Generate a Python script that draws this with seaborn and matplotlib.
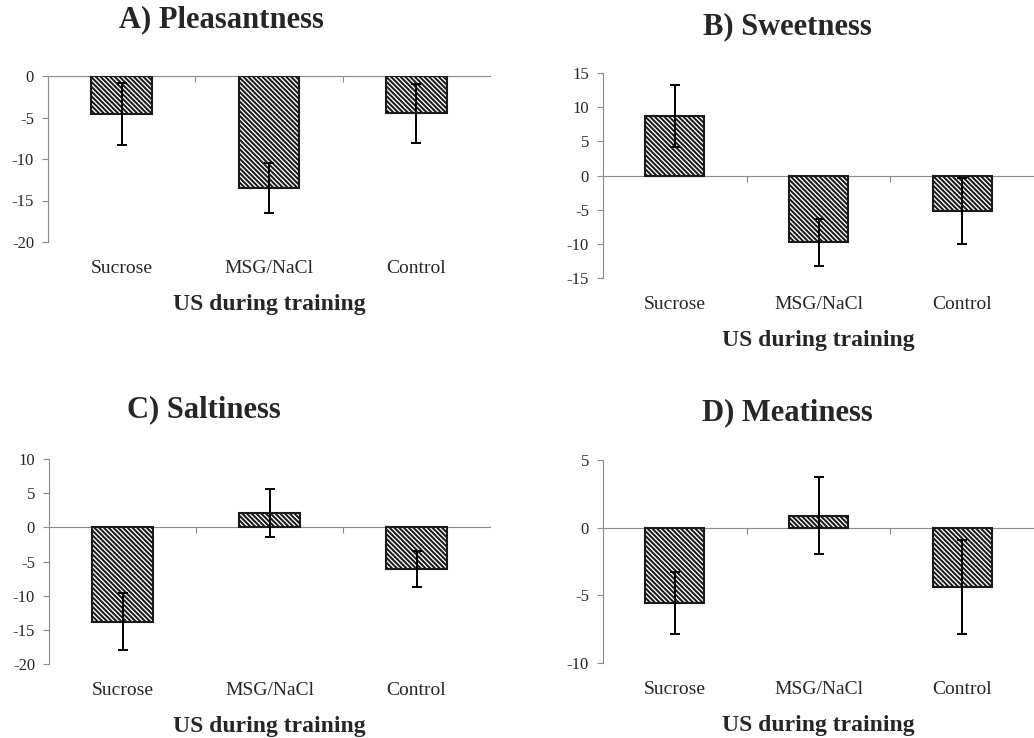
import matplotlib
matplotlib.use("Agg")
import matplotlib.pyplot as plt
import seaborn as sns
import pandas as pd

categories = ["Sucrose", "MSG/NaCl", "Control"]

pleasant = [-4.6, -13.5, -4.5]
pleasant_err = [3.7, 3.05, 3.55]
sweet = [8.7, -9.8, -5.2]
sweet_err = [4.5, 3.5, 4.8]
salt = [-13.8, 2.1, -6.1]
salt_err = [4.2, 3.5, 2.7]
meat = [-5.57, 0.89, -4.37]
meat_err = [2.27, 2.83, 3.47]

titles = ["A) Pleasantness", "B) Sweetness", "C) Saltiness", "D) Meatiness"]
ylims = [(-20, 0), (-15, 15), (-20, 10), (-10, 5)]
yticks = [[0, -5, -10, -15, -20], [15, 10, 5, 0, -5, -10, -15],
          [10, 5, 0, -5, -10, -15, -20], [5, 0, -5, -10]]
xlabel = "US during training"

sns.set_theme(style="white")
plt.rcParams["font.family"] = ["Liberation Serif", "DejaVu Serif"]
plt.rcParams["hatch.linewidth"] = 1.45
plt.rcParams["hatch.color"] = "#1a1a1a"

W, H = 1034, 738
fig = plt.figure(figsize=(W / 100, H / 100), dpi=100)

# pixel boxes: left, right, top, bottom
boxes = [(48, 490, 76, 242), (603, 1034, 73, 278),
         (49, 490, 459, 664), (603, 1034, 460, 663)]
title_pos = [(221, 20), (787, 27), (204, 410), (787, 413)]

series = [(pleasant, pleasant_err), (sweet, sweet_err), (salt, salt_err), (meat, meat_err)]
gray = "#8a8a8a"

for i, ((vals, errs), (l, r, t, b)) in enumerate(zip(series, boxes)):
    ax = fig.add_axes([l / W, 1 - b / H, (r - l) / W, (b - t) / H])
    df = pd.DataFrame({"US": categories, "value": vals})
    sns.barplot(data=df, x="US", y="value", ax=ax, color="white",
                edgecolor="#1a1a1a", linewidth=1.5, width=0.41, errorbar=None,
                saturation=1)
    for p in ax.patches:
        p.set_hatch("\\" * 7)
        p.set_zorder(2)
    ax.errorbar(range(len(categories)), vals, yerr=errs, fmt="none",
                ecolor="black", elinewidth=1.4, capsize=3.6, capthick=1.4, zorder=3)
    ax.set_ylim(*ylims[i])
    ax.set_xlim(-0.5, 2.5)
    ax.set_yticks(yticks[i])
    ax.set_yticklabels([str(v) for v in yticks[i]], fontsize=12)
    ax.tick_params(axis="y", length=4, width=0.8, color=gray, pad=6, left=True)
    ax.tick_params(axis="x", length=0, pad=12.7, labelsize=14)
    ax.set_xlabel(xlabel, fontsize=17, fontweight="bold", labelpad=12.3)
    ax.set_ylabel("")
    for s in ["top", "right", "bottom"]:
        ax.spines[s].set_visible(False)
    ax.spines["left"].set_color(gray)
    ax.spines["left"].set_linewidth(0.8)
    ax.set_facecolor("none")
    # zero line with small ticks between categories
    sec = ax.secondary_xaxis(0, transform=ax.transData)
    sec.set_alignment("bottom")
    sec.set_xticks([0.5, 1.5])
    sec.set_xticklabels([])
    sec.tick_params(axis="x", length=4, width=0.8, color=gray, direction="out")
    for s in sec.spines.values():
        s.set_color(gray)
        s.set_linewidth(0.8)
    fig.text(title_pos[i][0] / W, 1 - title_pos[i][1] / H, titles[i],
             fontsize=22, fontweight="bold", ha="center", va="center")

fig.savefig("out.png", dpi=100)
